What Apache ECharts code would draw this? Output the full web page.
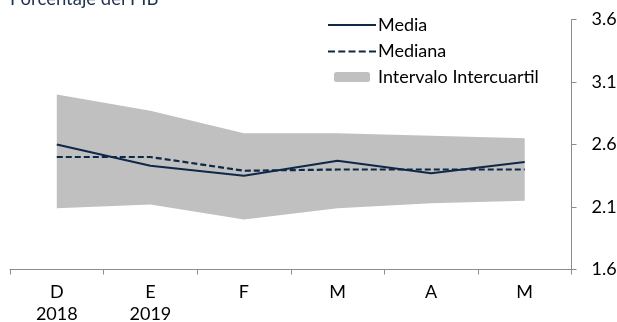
<!DOCTYPE html>
<html>
<head>
<meta charset="utf-8">
<script src="https://cdn.jsdelivr.net/npm/echarts@6/dist/echarts.min.js"></script>
<style>
html,body{margin:0;padding:0;background:#fff;}
#chart{width:617px;height:322px;}
</style>
</head>
<body>
<div id="chart"></div>
<script>
const categories = ['D\n2018', 'E\n2019', 'F', 'M', 'A', 'M'];
const media = [2.60, 2.43, 2.35, 2.47, 2.37, 2.46];
const mediana = [2.50, 2.50, 2.39, 2.40, 2.40, 2.40];
const q1 = [2.09, 2.12, 2.00, 2.09, 2.13, 2.15];
const q3 = [3.00, 2.87, 2.69, 2.69, 2.67, 2.65];
const yTicks = [1.6, 2.1, 2.6, 3.1, 3.6];

const FONT = 'Lato';
const FS = 18;
const NAVY = '#0f2748';
const BAND = '#c0c0c0';
const AXIS = '#8c8c8c';

const bandWidth = q3.map((v, i) => +(v - q1[i]).toFixed(4));

const dashIcon = 'path://M0,0h7v2h-7z M10.25,0h7v2h-7z M20.5,0h7v2h-7z M30.75,0h7v2h-7z M41,0h7v2h-7z';
const solidIcon = 'path://M0,0h48v2h-48z';

const chart = echarts.init(document.getElementById('chart'), null, {renderer: 'canvas'});
chart.setOption({
  animation: false,
  backgroundColor: '#fff',
  textStyle: {fontFamily: FONT},
  title: {
    text: 'Porcentaje del PIB',
    left: 10, top: -10, padding: 0,
    textStyle: {fontFamily: FONT, fontSize: 18.5, fontWeight: 'normal', color: '#1f3350'}
  },
  grid: {left: 10, right: 45.5, top: 19.5, bottom: 52.5, outerBoundsMode: 'none', containLabel: false},
  legend: [
    {
      data: [{name: 'Media', icon: solidIcon, itemStyle: {color: NAVY, borderWidth: 0}}],
      left: 328, top: 16, padding: 0, itemWidth: 48, itemHeight: 2,
      textStyle: {fontFamily: FONT, fontSize: FS, color: '#000', padding: [0, 0, 0, -3]}
    },
    {
      data: [{name: 'Mediana', icon: dashIcon, itemStyle: {color: NAVY, borderWidth: 0}}],
      left: 328, top: 42.5, padding: 0, itemWidth: 48, itemHeight: 2,
      textStyle: {fontFamily: FONT, fontSize: FS, color: '#000', padding: [0, 0, 0, -3]}
    },
    {
      data: [{name: 'Intervalo Intercuartil', icon: 'roundRect', itemStyle: {color: BAND, borderWidth: 0}}],
      left: 334, top: 68, padding: 0, itemWidth: 36, itemHeight: 10,
      textStyle: {fontFamily: FONT, fontSize: FS, color: '#000', padding: [0, 0, 0, 3]}
    }
  ],
  xAxis: {
    type: 'category',
    data: categories,
    boundaryGap: true,
    axisLine: {show: true, lineStyle: {color: AXIS, width: 1}},
    axisTick: {show: true, length: 5, alignWithLabel: false, lineStyle: {color: AXIS}},
    axisLabel: {fontFamily: FONT, fontSize: FS, color: '#000', margin: 12, lineHeight: 22, interval: 0},
    splitLine: {show: false}
  },
  yAxis: {
    type: 'value',
    position: 'right',
    min: 1.6, max: 3.6, interval: 0.5,
    axisLine: {show: true, lineStyle: {color: AXIS, width: 1}},
    axisTick: {show: true, length: 5, inside: false, lineStyle: {color: AXIS}},
    axisLabel: {
      fontFamily: FONT, fontSize: FS, color: '#000', margin: 20,
      formatter: v => {
        const t = yTicks.find(y => Math.abs(y - v) < 1e-6);
        return t === undefined ? '' : t.toFixed(1);
      }
    },
    splitLine: {show: false}
  },
  series: [
    {
      name: 'q1', type: 'line', stack: 'band', data: q1,
      symbol: 'none', lineStyle: {width: 0, opacity: 0}, areaStyle: {opacity: 0},
      silent: true, z: 1
    },
    {
      name: 'Intervalo Intercuartil', type: 'line', stack: 'band', data: bandWidth,
      symbol: 'none', lineStyle: {width: 0, opacity: 0},
      itemStyle: {color: BAND},
      areaStyle: {color: BAND, opacity: 1}, z: 1
    },
    {
      name: 'Media', type: 'line', data: media, symbol: 'none',
      lineStyle: {color: NAVY, width: 2.2, type: 'solid'},
      itemStyle: {color: NAVY}, z: 3
    },
    {
      name: 'Mediana', type: 'line', data: mediana, symbol: 'none',
      lineStyle: {color: NAVY, width: 2.2, type: [6, 3]},
      itemStyle: {color: NAVY}, z: 3
    }
  ]
});
</script>
</body>
</html>
